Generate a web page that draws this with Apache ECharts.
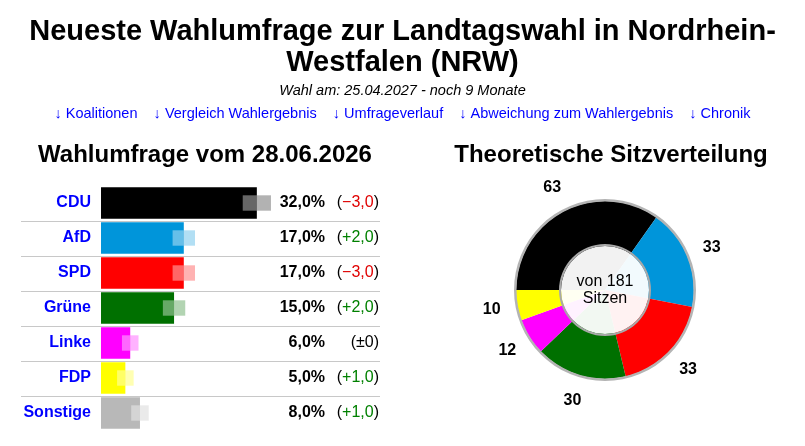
<!DOCTYPE html>
<html>
<head>
<meta charset="utf-8">
<script src="https://cdn.jsdelivr.net/npm/echarts@6/dist/echarts.min.js"></script>
<style>
  html, body { margin: 0; padding: 0; background: #fff; }
  #chart { width: 805px; height: 446px; }
</style>
</head>
<body>
<div id="chart"></div>
<script>
// Umfragewerte
const parties = ["CDU", "AfD", "SPD", "Grüne", "Linke", "FDP", "Sonstige"];
const shares = [32, 17, 17, 15, 6, 5, 8];
const changes = [-3, 2, -3, 2, 0, 1, 1];
const margins = [2.9, 2.3, 2.3, 2.3, 1.7, 1.7, 1.8];
const partyColors = ["#000000", "#0095da", "#ff0000", "#007000", "#ff00ff", "#ffff00", "#b8b8b8"];

// Sitzverteilung
const seatParties = ["CDU", "AfD", "SPD", "Grüne", "Linke", "FDP"];
const seats = [63, 33, 33, 30, 12, 10];
const seatColors = ["#000000", "#0095da", "#ff0000", "#007000", "#ff00ff", "#ffff00"];

const FONT = "Liberation Sans, Arial, Helvetica, sans-serif";
const totalSeats = seats.reduce((a, b) => a + b, 0);

function fmtPct(v) {
  return v.toFixed(1).replace(".", ",") + "%";
}
function fmtChange(d) {
  if (d === 0) return "{p|(±0)}";
  const s = Math.abs(d).toFixed(1).replace(".", ",");
  return d < 0 ? "{p|(}{neg|−" + s + "}{p|)}" : "{p|(}{pos|+" + s + "}{p|)}";
}

const chart = echarts.init(document.getElementById("chart"));

const option = {
  backgroundColor: "#fff",
  animation: false,
  title: [
    {
      text: "Neueste Wahlumfrage zur Landtagswahl in Nordrhein-\nWestfalen (NRW)",
      left: "center",
      top: 11,
      textStyle: { fontFamily: FONT, fontSize: 29, fontWeight: "bold", color: "#000", lineHeight: 31 }
    },
    {
      text: "Wahl am: 25.04.2027 - noch 9 Monate",
      left: "center",
      top: 78,
      textStyle: { fontFamily: FONT, fontSize: 14.5, fontStyle: "italic", fontWeight: "normal", color: "#000" }
    },
    {
      text: "↓ Koalitionen    ↓ Vergleich Wahlergebnis    ↓ Umfrageverlauf    ↓ Abweichung zum Wahlergebnis    ↓ Chronik",
      left: "center",
      top: 101,
      textStyle: { fontFamily: FONT, fontSize: 14.5, fontWeight: "normal", color: "#0000ff" }
    },
    {
      text: "Wahlumfrage vom 28.06.2026",
      left: 200,
      textAlign: "center",
      top: 138,
      textStyle: { fontFamily: FONT, fontSize: 24, fontWeight: "bold", color: "#000" }
    },
    {
      text: "Theoretische Sitzverteilung",
      left: 606,
      textAlign: "center",
      top: 138,
      textStyle: { fontFamily: FONT, fontSize: 24, fontWeight: "bold", color: "#000" }
    }
  ],
  grid: {
    left: 21,
    top: 185.5,
    width: 359,
    height: 245
  },
  xAxis: {
    type: "value",
    min: -16.43,
    max: 57.29,
    show: false
  },
  yAxis: [
    {
      type: "category",
      data: parties,
      inverse: true,
      axisLine: { show: false },
      axisTick: { show: false },
      splitLine: { show: false },
      axisLabel: {
        margin: -70,
        fontFamily: FONT,
        fontSize: 16,
        fontWeight: "bold",
        color: "#0000ff"
      }
    },
    {
      type: "category",
      data: parties,
      inverse: true,
      position: "right",
      axisLine: { show: false },
      axisTick: { show: false },
      axisLabel: {
        margin: -55,
        align: "right",
        fontFamily: FONT,
        fontSize: 16,
        fontWeight: "bold",
        color: "#000",
        formatter: (v, i) => fmtPct(shares[i])
      }
    },
    {
      type: "category",
      data: parties,
      inverse: true,
      position: "right",
      axisLine: { show: false },
      axisTick: { show: false },
      axisLabel: {
        margin: -1,
        align: "right",
        fontFamily: FONT,
        fontSize: 16,
        formatter: (v, i) => fmtChange(changes[i]),
        rich: {
          p: { color: "#000", fontFamily: FONT, fontSize: 16 },
          neg: { color: "#e00000", fontFamily: FONT, fontSize: 16 },
          pos: { color: "#008000", fontFamily: FONT, fontSize: 16 }
        }
      }
    }
  ],
  series: [
    // Trennlinien zwischen den Zeilen
    {
      type: "custom",
      silent: true,
      z: 1,
      data: parties.map((p, i) => [0, i]),
      renderItem: function (params, api) {
        const idx = api.value(1);
        if (idx === 0) return { type: "group", children: [] };
        const c = api.coord([0, idx]);
        const band = api.size([0, 1])[1];
        const y = Math.round(c[1] - band / 2) + 0.5;
        const cs = params.coordSys;
        return {
          type: "line",
          shape: { x1: cs.x, y1: y, x2: cs.x + cs.width, y2: y },
          style: { stroke: "#c8c8c8", lineWidth: 1 }
        };
      }
    },
    {
      type: "bar",
      barCategoryGap: "10%",
      z: 2,
      data: shares.map((v, i) => ({ value: v, itemStyle: { color: partyColors[i] } }))
    },
    // Fehlerbereich
    {
      type: "custom",
      silent: true,
      z: 3,
      data: shares.map((v, i) => [v, i, margins[i]]),
      renderItem: function (params, api) {
        const v = api.value(0);
        const idx = api.value(1);
        const m = api.value(2);
        const c = api.coord([v, idx]);
        const lo = api.coord([v - m, idx]);
        const hi = api.coord([v + m, idx]);
        const h = api.size([0, 1])[1] * 0.44;
        return {
          type: "group",
          children: [
            {
              type: "rect",
              shape: { x: lo[0], y: c[1] - h / 2, width: c[0] - lo[0], height: h },
              style: { fill: "rgba(255,255,255,0.4)" }
            },
            {
              type: "rect",
              shape: { x: c[0], y: c[1] - h / 2, width: hi[0] - c[0], height: h },
              style: { fill: partyColors[idx], opacity: 0.3 }
            }
          ]
        };
      }
    },
    // Sitzverteilung
    {
      type: "pie",
      center: [605, 290],
      radius: [0, 89],
      startAngle: 180,
      silent: true,
      label: { show: false },
      labelLine: { show: false },
      data: seats.map((v, i) => ({ name: seatParties[i], value: v, itemStyle: { color: seatColors[i] } }))
    },
    // Zahlen außen
    {
      type: "pie",
      center: [605, 290],
      radius: [89, 135],
      startAngle: 180,
      silent: true,
      itemStyle: { color: "rgba(0,0,0,0)" },
      label: {
        show: true,
        position: "inside",
        fontFamily: FONT,
        fontSize: 16,
        fontWeight: "bold",
        color: "#000",
        formatter: "{c}"
      },
      labelLine: { show: false },
      data: seats.map((v, i) => ({ name: seatParties[i], value: v }))
    },
    // äußerer Rand
    {
      type: "pie",
      center: [605, 290],
      radius: [88.5, 91],
      silent: true,
      label: { show: false },
      labelLine: { show: false },
      data: [{ value: 1, itemStyle: { color: "#b4b4b4" } }]
    },
    // innerer Kreis
    {
      type: "pie",
      center: [605, 290],
      radius: [0, 44],
      silent: true,
      z: 5,
      labelLine: { show: false },
      label: {
        show: true,
        position: "center",
        fontFamily: FONT,
        fontSize: 16,
        lineHeight: 17,
        color: "#000",
        formatter: "von " + totalSeats + "\nSitzen"
      },
      data: [{ value: 1, itemStyle: { color: "rgba(255,255,255,0.95)" } }]
    },
    {
      type: "pie",
      center: [605, 290],
      radius: [44, 46],
      silent: true,
      z: 5,
      label: { show: false },
      labelLine: { show: false },
      data: [{ value: 1, itemStyle: { color: "#a8a8a8" } }]
    }
  ]
};

option && chart.setOption(option);
window.addEventListener("resize", function () {
  chart.resize();
});
</script>
</body>
</html>
